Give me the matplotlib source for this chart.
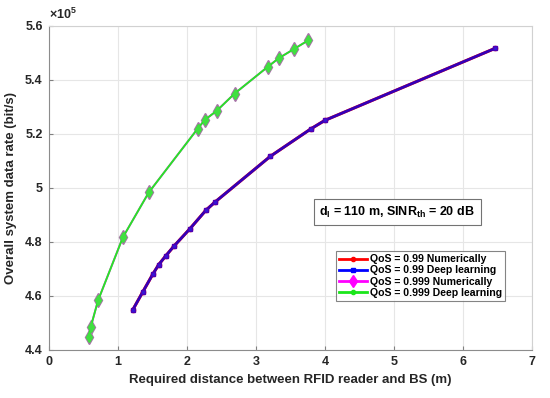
import matplotlib
matplotlib.use("Agg")
import matplotlib.pyplot as plt
from matplotlib.lines import Line2D

plt.rcParams['font.family'] = ['Liberation Sans', 'DejaVu Sans']
plt.rcParams['mathtext.fontset'] = 'custom'
plt.rcParams['mathtext.rm'] = 'Liberation Sans:bold'
plt.rcParams['mathtext.it'] = 'Liberation Sans:bold'
plt.rcParams['mathtext.bf'] = 'Liberation Sans:bold'

# QoS = 0.99 (numerical and deep learning coincide)
dist_099 = [1.217, 1.361, 1.505, 1.592, 1.693, 1.808, 2.045, 2.275, 2.41, 3.21, 3.80, 4.0, 6.47]
rate_099 = [4.549, 4.615, 4.680, 4.716, 4.748, 4.783, 4.849, 4.917, 4.948, 5.117, 5.219, 5.250, 5.517]
# QoS = 0.999
dist_0999 = [0.577, 0.606, 0.712, 1.072, 1.447, 2.155, 2.26, 2.43, 2.69, 3.17, 3.33, 3.55, 3.756]
rate_0999 = [4.449, 4.485, 4.583, 4.817, 4.983, 5.219, 5.252, 5.285, 5.349, 5.448, 5.480, 5.514, 5.546]

legend_labels = ['QoS = 0.99 Numerically', 'QoS = 0.99 Deep learning',
                 'QoS = 0.999 Numerically', 'QoS = 0.999 Deep learning']
scale = 1e5

fig = plt.figure(figsize=(5.5, 3.98), dpi=100)
ax = fig.add_axes([0.089, 0.121, 0.878, 0.814])

r099 = [v * scale for v in rate_099]
r0999 = [v * scale for v in rate_0999]

ax.plot(dist_099, r099, color='red', lw=2.2, marker='o', ms=3, zorder=3)
ax.plot(dist_099, r099, color=(0.2, 0.0, 0.72), lw=2.0, marker='s', ms=3.5,
        mfc=(0.2, 0.1, 0.85), mec=(0.3, 0.0, 0.7), zorder=4)
ax.plot(dist_0999, r0999, color='magenta', lw=1.3, marker='d', ms=7,
        mfc=(0.75, 0.35, 0.75), mec=(0.65, 0.45, 0.65), zorder=3)
ax.plot(dist_0999, r0999, color=(0.15, 0.9, 0.15), lw=1.4, marker='d', ms=5.2,
        mfc=(0.25, 0.88, 0.25), mec=(0.25, 0.88, 0.25), zorder=4)

ax.set_xlim(0, 7)
ax.set_ylim(4.4e5, 5.6e5)
ax.set_xticks(range(0, 8))
yt = [4.4, 4.6, 4.8, 5.0, 5.2, 5.4, 5.6]
ax.set_yticks([v * scale for v in yt])
ax.set_yticklabels(['4.4', '4.6', '4.8', '5', '5.2', '5.4', '5.6'])
ax.grid(True, color=(0.9, 0.9, 0.9), lw=0.8)
ax.set_axisbelow(True)
for s in ax.spines.values():
    s.set_color((0.82, 0.82, 0.82))
    s.set_linewidth(0.8)
ax.spines['left'].set_color((0.55, 0.55, 0.55))
ax.spines['bottom'].set_color((0.55, 0.55, 0.55))
ax.tick_params(direction='in', length=3, color=(0.5, 0.5, 0.5), labelsize=9, pad=4.5)
for lab in ax.get_xticklabels() + ax.get_yticklabels():
    lab.set_fontweight('bold')
    lab.set_color((0.15, 0.15, 0.15))

ax.set_xlabel('Required distance between RFID reader and BS (m)', fontsize=9.5,
              fontweight='bold', color=(0.15, 0.15, 0.15), labelpad=4)
ax.set_ylabel('Overall system data rate (bit/s)', fontsize=9.5,
              fontweight='bold', color=(0.15, 0.15, 0.15), labelpad=6)

ax.text(0.0, 1.012, r'$\times$10$^5$', transform=ax.transAxes, fontsize=9,
        color=(0.15, 0.15, 0.15), ha='left', va='bottom', fontweight='bold')

ax.text(0.56, 0.425, r'd$_\mathregular{I}$ = 110 m, SINR$_\mathregular{th}$ = 20 dB',
        transform=ax.transAxes, fontsize=9, fontweight='bold', ha='left', va='center',
        bbox=dict(boxstyle='square,pad=0.45', fc='white', ec=(0.45, 0.45, 0.45), lw=0.8))

handles = [
    Line2D([], [], color='red', lw=2, marker='o', ms=3),
    Line2D([], [], color='blue', lw=2, marker='s', ms=3),
    Line2D([], [], color='magenta', lw=2, marker='d', ms=6),
    Line2D([], [], color=(0.1, 0.9, 0.1), lw=2, marker='o', ms=3),
]
leg = ax.legend(handles, legend_labels, loc='upper left', bbox_to_anchor=(0.595, 0.305),
                fontsize=7.6, frameon=True, fancybox=False, handlelength=2.6,
                handletextpad=0.3, borderpad=0.3, labelspacing=0.12, borderaxespad=0)
leg.get_frame().set_edgecolor((0.4, 0.4, 0.4))
leg.get_frame().set_linewidth(0.8)
for t in leg.get_texts():
    t.set_fontweight('bold')

fig.savefig('out.png', dpi=100)
